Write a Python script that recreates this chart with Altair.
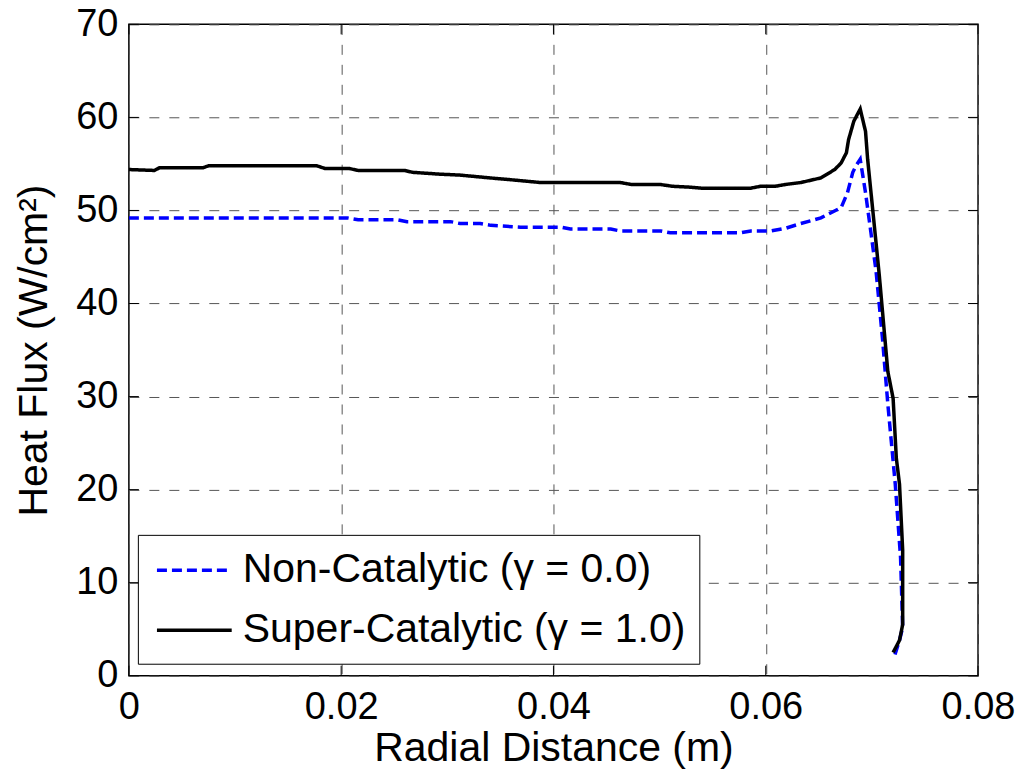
import altair as alt
import pandas as pd

# ---- data ----
x_ticks = [0, 0.02, 0.04, 0.06, 0.08]
y_ticks = [0, 10, 20, 30, 40, 50, 60, 70]
series_names = ["Non-Catalytic (\u03b3 = 0.0)", "Super-Catalytic (\u03b3 = 1.0)"]

non_x = [0.0000, 0.0206, 0.0216, 0.0253, 0.0262, 0.0303, 0.0312, 0.0331, 0.0341,
         0.0369, 0.0407, 0.0416, 0.0454, 0.0463, 0.0501, 0.0510, 0.0576, 0.0586,
         0.0605, 0.0619, 0.0633, 0.0652, 0.0671, 0.0677, 0.0682, 0.0685, 0.0689,
         0.0694, 0.0699, 0.0704, 0.0710, 0.0715, 0.0722, 0.0727, 0.0729, 0.0726,
         0.0721]
non_y = [49.2, 49.2, 49.0, 49.0, 48.8, 48.8, 48.6, 48.6, 48.4,
         48.2, 48.2, 48.0, 48.0, 47.8, 47.8, 47.6, 47.6, 47.8,
         47.8, 48.1, 48.6, 49.2, 50.3, 51.9, 54.1, 54.8, 55.5,
         51.9, 47.7, 43.4, 36.2, 29.2, 20.6, 12.7, 5.2, 3.8,
         2.0]

sup_x = [0.0000, 0.0024, 0.0029, 0.0070, 0.0075, 0.0177, 0.0185, 0.0208, 0.0216,
         0.0260, 0.0267, 0.0293, 0.0312, 0.0340, 0.0360, 0.0388, 0.0463, 0.0473,
         0.0500, 0.0512, 0.0529, 0.0539, 0.0586, 0.0595, 0.0609, 0.0619, 0.0633,
         0.0652, 0.0665, 0.0671, 0.0676, 0.0678, 0.0683, 0.0689, 0.0694, 0.0696,
         0.0702, 0.0707, 0.0715, 0.0720, 0.0723, 0.0726, 0.0729, 0.0729, 0.0726,
         0.0720]
sup_y = [54.4, 54.3, 54.6, 54.6, 54.8, 54.8, 54.5, 54.5, 54.3,
         54.3, 54.1, 53.9, 53.8, 53.5, 53.3, 53.0, 53.0, 52.8,
         52.8, 52.6, 52.5, 52.4, 52.4, 52.6, 52.6, 52.8, 53.0,
         53.5, 54.4, 55.1, 56.2, 57.6, 59.6, 60.9, 58.5, 55.5,
         48.7, 43.0, 32.7, 29.8, 23.4, 20.6, 13.5, 5.5, 3.8,
         2.5]

rows = []
for i, (x, y) in enumerate(zip(non_x, non_y)):
    rows.append({"series": series_names[0], "x": x, "y": y, "order": i})
for i, (x, y) in enumerate(zip(sup_x, sup_y)):
    rows.append({"series": series_names[1], "x": x, "y": y, "order": i})
df = pd.DataFrame(rows)

W, H = 850, 652
FONT = "Liberation Sans"
TICK_LEN = 10

xs = alt.Scale(domain=[0, 0.08], nice=False, zero=False)
ys = alt.Scale(domain=[0, 70], nice=False, zero=False)

x_axis = alt.Axis(values=x_ticks, title="Radial Distance (m)",
                  labelExpr="datum.value == 0 ? '0' : format(datum.value, '.2f')",
                  labelPadding=13, titlePadding=2, labelFlush=False)
y_axis = alt.Axis(values=y_ticks, title="Heat Flux (W/cm\u00b2)",
                  format="d", labelPadding=11, titlePadding=20, labelFlush=False)

legend_props = dict(
    title=None, orient="none", legendX=9, legendY=511,
    labelFont=FONT, labelFontSize=41, labelColor="black", labelLimit=0,
    labelOffset=47, strokeColor="black", fillColor="white", padding=13,
    rowPadding=17, symbolType="M-0.8,0H2.85", symbolSize=1681, symbolStrokeWidth=3.5,
)

lines = alt.Chart(df).mark_line(strokeWidth=3.5, clip=True).encode(
    x=alt.X("x:Q", scale=xs, axis=x_axis),
    y=alt.Y("y:Q", scale=ys, axis=y_axis),
    color=alt.Color("series:N",
                    scale=alt.Scale(domain=series_names, range=["#0000ff", "#000000"]),
                    legend=alt.Legend(**legend_props)),
    strokeDash=alt.StrokeDash("series:N",
                              scale=alt.Scale(domain=series_names, range=[[10, 5], [1, 0]]),
                              legend=alt.Legend(**legend_props)),
    order="order:Q",
)

xt = pd.DataFrame({"x": x_ticks})
yt = pd.DataFrame({"y": y_ticks})

bottom_ticks = alt.Chart(xt).mark_rule(color="black", strokeWidth=1).encode(
    x=alt.X("x:Q", scale=xs, axis=x_axis), y=alt.value(H), y2=alt.value(H - TICK_LEN))
top_ticks = alt.Chart(xt).mark_rule(color="black", strokeWidth=1).encode(
    x=alt.X("x:Q", scale=xs, axis=x_axis), y=alt.value(0), y2=alt.value(TICK_LEN))
left_ticks = alt.Chart(yt).mark_rule(color="black", strokeWidth=1).encode(
    y=alt.Y("y:Q", scale=ys, axis=y_axis), x=alt.value(0), x2=alt.value(TICK_LEN))
right_ticks = alt.Chart(yt).mark_rule(color="black", strokeWidth=1).encode(
    y=alt.Y("y:Q", scale=ys, axis=y_axis), x=alt.value(W), x2=alt.value(W - TICK_LEN))

chart = alt.layer(lines, bottom_ticks, top_ticks, left_ticks, right_ticks).properties(
    width=W, height=H,
    autosize=alt.AutoSizeParams(type="none"),
    padding={"left": 121, "top": 16, "right": 40, "bottom": 94},
).configure_view(
    stroke="black", strokeWidth=1.5
).configure_axis(
    labelFont=FONT, labelFontSize=38, labelColor="black",
    titleFont=FONT, titleFontSize=41, titleFontWeight="normal", titleColor="black",
    grid=True, gridColor="#555555", gridDash=[10, 10], gridWidth=1, gridOpacity=1,
    ticks=False, domain=False,
)

chart.save("out.html", embed_options={"renderer": "svg", "actions": False})
